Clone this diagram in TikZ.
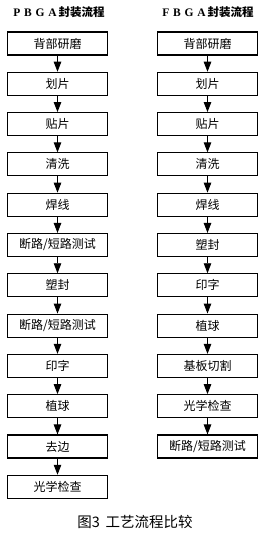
\documentclass[tikz,border=0pt]{standalone}
\usepackage{fontspec}
\setmainfont{Liberation Serif}
\newfontfamily\cjk{Noto Sans CJK SC}
\usepackage{tikz}
\usetikzlibrary{arrows.meta, positioning}

\begin{document}
\begin{tikzpicture}[
  x=1pt, y=-1pt,
  node distance=16.2pt,
  every node/.style={font=\cjk\fontsize{12}{13}\selectfont},
  stepbox/.style={
    draw=black, line width=1.1pt, fill=white,
    minimum width=100pt, minimum height=23pt, inner sep=0pt
  },
  title/.style={font=\bfseries\fontsize{11.5}{12}\selectfont},
  arrow/.style={-{Triangle[length=10pt, width=7.5pt]}, line width=0.9pt}
]
  \useasboundingbox (0,0) rectangle (270,534);

  % Titoli
  \node[title] (ptitle) at (59,12) {P\,\,B\,\,G\,\,A\,{\cjk 封装流程}};
  \node[title] (ftitle) at (208,12) {F\,\,B\,\,G\,\,A\,{\cjk 封装流程}};

  % Colonna sinistra (PBGA)
  \node[stepbox] (p1) at (57.5,43.5) {背部研磨};
  \node[stepbox, below=of p1] (p2) {划片};
  \node[stepbox, below=of p2] (p3) {贴片};
  \node[stepbox, below=of p3] (p4) {清洗};
  \node[stepbox, below=of p4] (p5) {焊线};
  \node[stepbox, below=of p5] (p6) {断路/短路测试};
  \node[stepbox, below=of p6] (p7) {塑封};
  \node[stepbox, below=of p7] (p8) {断路/短路测试};
  \node[stepbox, below=of p8] (p9) {印字};
  \node[stepbox, below=of p9] (p10) {植球};
  \node[stepbox, below=of p10] (p11) {去边};
  \node[stepbox, below=of p11] (p12) {光学检查};

  % Colonna destra (FBGA)
  \node[stepbox] (f1) at (207.5,43.5) {背部研磨};
  \node[stepbox, below=of f1] (f2) {划片};
  \node[stepbox, below=of f2] (f3) {贴片};
  \node[stepbox, below=of f3] (f4) {清洗};
  \node[stepbox, below=of f4] (f5) {焊线};
  \node[stepbox, below=of f5] (f6) {塑封};
  \node[stepbox, below=of f6] (f7) {印字};
  \node[stepbox, below=of f7] (f8) {植球};
  \node[stepbox, below=of f8] (f9) {基板切割};
  \node[stepbox, below=of f9] (f10) {光学检查};
  \node[stepbox, below=of f10] (f11) {断路/短路测试};

  % Frecce sinistra
  \draw[arrow] (p1) -- (p2);
  \draw[arrow] (p2) -- (p3);
  \draw[arrow] (p3) -- (p4);
  \draw[arrow] (p4) -- (p5);
  \draw[arrow] (p5) -- (p6);
  \draw[arrow] (p6) -- (p7);
  \draw[arrow] (p7) -- (p8);
  \draw[arrow] (p8) -- (p9);
  \draw[arrow] (p9) -- (p10);
  \draw[arrow] (p10) -- (p11);
  \draw[arrow] (p11) -- (p12);

  % Frecce destra
  \draw[arrow] (f1) -- (f2);
  \draw[arrow] (f2) -- (f3);
  \draw[arrow] (f3) -- (f4);
  \draw[arrow] (f4) -- (f5);
  \draw[arrow] (f5) -- (f6);
  \draw[arrow] (f6) -- (f7);
  \draw[arrow] (f7) -- (f8);
  \draw[arrow] (f8) -- (f9);
  \draw[arrow] (f9) -- (f10);
  \draw[arrow] (f10) -- (f11);

  % Didascalia
  \node[font=\cjk\fontsize{14.5}{15}\selectfont] (caption) at (135,522) {图3\, 工艺流程比较};

\end{tikzpicture}
\end{document}
